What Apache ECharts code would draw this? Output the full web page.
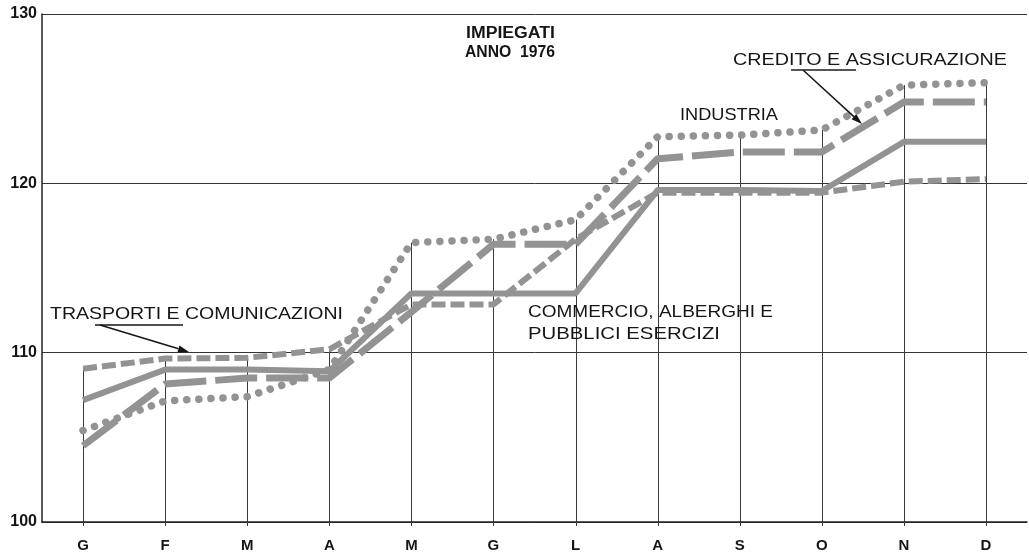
<!DOCTYPE html>
<html>
<head>
<meta charset="utf-8">
<script src="https://cdn.jsdelivr.net/npm/echarts@6/dist/echarts.min.js"></script>
<style>
  html, body { margin: 0; padding: 0; background: #fff; }
  #chart { width: 1029px; height: 553px; }
</style>
</head>
<body>
<div id="chart"></div>
<script>
// months of 1976 (Italian initials)
var months = ['G', 'F', 'M', 'A', 'M', 'G', 'L', 'A', 'S', 'O', 'N', 'D'];
var yMin = 100, yMax = 130, yStep = 10;

// index values
var industria  = [105.4, 107.15, 107.4, 109.0, 116.5, 116.7, 117.85, 122.75, 122.85, 123.15, 125.8, 125.95];
var credito    = [104.5, 108.15, 108.5, 108.5, 112.4, 116.4, 116.4, 121.45, 121.85, 121.85, 124.8, 124.8];
var commercio  = [107.2, 109.0, 109.0, 108.9, 113.5, 113.5, 113.5, 119.6, 119.6, 119.55, 122.45, 122.45];
var trasporti  = [109.05, 109.65, 109.7, 110.2, 112.85, 112.85, 116.7, 119.45, 119.45, 119.45, 120.1, 120.25];

var tops = months.map(function (m, i) {
  return Math.max(industria[i], credito[i], commercio[i], trasporti[i]);
});

var lineColor = '#939393';
var ink = '#151515';
var labelFont = '17px "Liberation Sans", Arial, sans-serif';

// stretch a text so it spans the given width (the print is letter-spaced)
var ctx = document.createElement('canvas').getContext('2d');
function label(text, x, y, width, font) {
  ctx.font = font || labelFont;
  var w = ctx.measureText(text).width;
  return {
    type: 'text', x: x, y: y, scaleX: width / w, silent: true, z: 10,
    style: { text: text, font: font || labelFont, fill: ink, verticalAlign: 'middle' }
  };
}

function arrow(x1, y1, x2, y2) {
  var a = Math.atan2(y2 - y1, x2 - x1), L = 11, W = 3.5;
  var bx = x2 - L * Math.cos(a), by = y2 - L * Math.sin(a);
  return [
    { type: 'line', silent: true, z: 10, shape: { x1: x1, y1: y1, x2: bx, y2: by }, style: { stroke: ink, lineWidth: 1.5 } },
    { type: 'polygon', silent: true, z: 10, shape: { points: [[x2, y2],
      [bx + W * Math.sin(a), by - W * Math.cos(a)], [bx - W * Math.sin(a), by + W * Math.cos(a)]] },
      style: { fill: ink } }
  ];
}

var chart = echarts.init(document.getElementById('chart'));
chart.setOption({
  animation: false,
  backgroundColor: '#fff',
  grid: { left: 42, right: 2, top: 14, bottom: 30 },
  xAxis: {
    type: 'category',
    data: months,
    boundaryGap: true,
    axisLine: { lineStyle: { color: '#222', width: 1.5 } },
    axisTick: { show: false },
    axisLabel: { color: ink, fontSize: 15, fontWeight: 'bold', fontFamily: 'Liberation Sans', margin: 16 },
    splitLine: { show: false }
  },
  yAxis: {
    type: 'value',
    min: yMin, max: yMax, interval: yStep,
    axisLine: { show: true, lineStyle: { color: '#222', width: 1.5 } },
    axisTick: { show: false },
    axisLabel: { color: ink, fontSize: 16, fontWeight: 'bold', fontFamily: 'Liberation Sans', margin: 5 },
    splitLine: { show: true, lineStyle: { color: '#333', width: 1 } }
  },
  series: [
    {
      type: 'custom', silent: true, z: 1,
      data: tops.map(function (v, i) { return [i, v]; }),
      encode: { x: 0, y: 1 },
      renderItem: function (params, api) {
        var p0 = api.coord([api.value(0), yMin]);
        var p1 = api.coord([api.value(0), api.value(1)]);
        var x = Math.round(p0[0]) + 0.5;
        return { type: 'line', shape: { x1: x, y1: p0[1] + 4, x2: x, y2: p1[1] },
                 style: { stroke: '#3a3a3a', lineWidth: 1 } };
      }
    },
    {
      name: 'Trasporti e comunicazioni', type: 'line', data: trasporti, symbol: 'none', z: 3,
      lineStyle: { color: lineColor, width: 6, type: [14, 5] }
    },
    {
      name: 'Commercio, alberghi e pubblici esercizi', type: 'line', data: commercio, symbol: 'none', z: 4,
      lineStyle: { color: lineColor, width: 6, join: 'round' }
    },
    {
      name: 'Credito e assicurazione', type: 'line', data: credito, symbol: 'none', z: 3,
      lineStyle: { color: lineColor, width: 7, type: [42, 9] }
    },
    {
      name: 'Industria', type: 'line', data: industria, symbol: 'none', z: 3,
      lineStyle: { color: lineColor, width: 7.5, type: [0.1, 12], cap: 'round' }
    }
  ],
  graphic: [
    label('IMPIEGATI', 466, 34, 89, 'bold 16px "Liberation Sans", Arial, sans-serif'),
    label('ANNO  1976', 465, 53, 90, 'bold 16px "Liberation Sans", Arial, sans-serif'),
    label('INDUSTRIA', 680, 115, 98),
    label('CREDITO E ASSICURAZIONE', 733, 60, 274),
    label('TRASPORTI E COMUNICAZIONI', 50, 314, 293),
    label('COMMERCIO, ALBERGHI E', 528, 312, 245),
    label('PUBBLICI ESERCIZI', 528, 334, 192),
    { type: 'line', silent: true, z: 10, shape: { x1: 95, y1: 325, x2: 183, y2: 325 }, style: { stroke: ink, lineWidth: 1.5 } },
    { type: 'line', silent: true, z: 10, shape: { x1: 791, y1: 70, x2: 856, y2: 70 }, style: { stroke: '#555', lineWidth: 2 } }
  ].concat(arrow(100, 325, 189, 352), arrow(803, 70, 862, 124))
});
</script>
</body>
</html>
